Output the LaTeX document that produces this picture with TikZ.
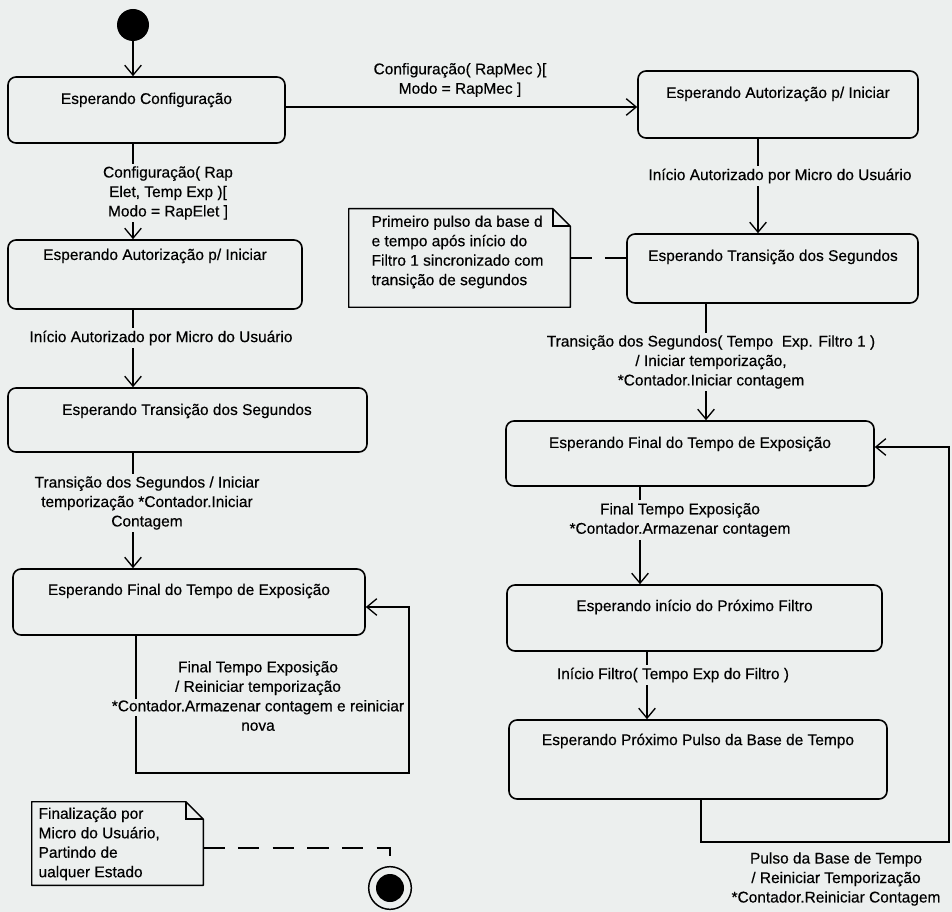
\documentclass[tikz,border=0pt]{standalone}
\usepackage{fontspec}
\setmainfont{Liberation Sans}[FakeBold=0.4]
\usetikzlibrary{arrows.meta,fit,calc}
\definecolor{paper}{HTML}{ECEFEE}
% text set on a patch of paper colour, so a connector behind it is interrupted
\newcommand\onpaper[1]{{\setlength{\fboxsep}{1pt}\colorbox{paper}{#1}}}
% UML note outline with a folded top-right corner
\newcommand\notefold[1]{%
  \draw[line width=1.1pt,line join=round]
    (#1.south west) -- (#1.north west) -- ([xshift=-13pt]#1.north east)
    -- ([yshift=-13pt]#1.north east) -- (#1.south east) -- cycle;
  \draw[line width=0.9pt]
    ([xshift=-13pt]#1.north east) -- ([xshift=-13pt,yshift=-13pt]#1.north east)
    -- ([yshift=-13pt]#1.north east);}

\begin{document}
\begin{tikzpicture}[x=0.75pt,y=-0.75pt,
  every node/.style={font=\fontsize{11.6pt}{14.6pt}\selectfont},
  state/.style={draw, rounded corners=6pt, line width=1.2pt, inner sep=0pt},
  notearea/.style={inner sep=0pt},
  txt/.style={inner sep=1pt},
  lbl/.style={fill=paper, align=center, inner sep=2pt},
  loose/.style={align=center, inner sep=1pt},
  arr/.style={line width=1pt, -{Straight Barb[length=7.5pt,width=12.5pt]}},
  dashline/.style={line width=1pt, dash pattern=on 16pt off 10pt}]

% page
\fill[paper] (0,0) rectangle (952,912);
\useasboundingbox (0,0) rectangle (952,912);

% ---------- states, left column ----------
\node[state, fit={(8,77) (285,143)}] (l1) {};
\node[txt] (l1t) at (146.5,100) {Esperando Configuração};
\node[state, fit={(8,240) (302,309)}] (l2) {};
\node[txt] (l2t) at (155,256) {Esperando Autorização p/ Iniciar};
\node[state, fit={(8,388) (367,452)}] (l3) {};
\node[txt] (l3t) at (187,411) {Esperando Transição dos Segundos};
\node[state, fit={(13,569) (365,635)}] (l4) {};
\node[txt] (l4t) at (189,591) {Esperando Final do Tempo de Exposição};

% ---------- states, right column ----------
\node[state, fit={(638,71) (918,138)}] (r1) {};
\node[txt] (r1t) at (778,94) {Esperando Autorização p/ Iniciar};
\node[state, fit={(627,234) (918,303)}] (r2) {};
\node[txt] (r2t) at (773,257) {Esperando Transição dos Segundos};
\node[state, fit={(506,421) (874,486)}] (r3) {};
\node[txt] (r3t) at (690,444) {Esperando Final do Tempo de Exposição};
\node[state, fit={(507,585) (882,651)}] (r4) {};
\node[txt] (r4t) at (694.5,607) {Esperando início do Próximo Filtro};
\node[state, fit={(509,720) (887,799)}] (r5) {};
\node[txt] (r5t) at (698,741) {Esperando Próximo Pulso da Base de Tempo};

% ---------- pseudo states ----------
\node[circle, fill=black, minimum size=24pt, inner sep=0pt] (init) at (133,25) {};
\node[circle, draw, line width=1.1pt, minimum size=32pt, inner sep=0pt,
  path picture={\fill[black] (path picture bounding box.center) circle (10.5pt);}]
  (final) at (390,888) {};

% ---------- notes ----------
\node[notearea, fit={(349,209) (570,307)}] (n1) {};
\notefold{n1}
\node[txt, align=left, anchor=west] (n1t) at (370,252)
  {Primeiro pulso da base d\\e tempo após início do\\Filtro 1 sincronizado com\\transição de segundos};
\node[notearea, fit={(32,802) (203,885)}] (n2) {};
\notefold{n2}
\node[txt, align=left, anchor=west] (n2t) at (37,844)
  {Finalização por\\Micro do Usuário,\\Partindo de\\ualquer Estado};

% ---------- connector guide positions ----------
\coordinate (cL) at (133,0);
\coordinate (hy) at (0,107);
\coordinate (c1) at (758,0);
\coordinate (c2) at (706,0);
\coordinate (c3) at (640,0);
\coordinate (c4) at (647,0);
\coordinate (lpA) at (136,773);
\coordinate (lpB) at (409,773);
\coordinate (lpC) at (409,607);
\coordinate (rb1) at (701,842);
\coordinate (rb2) at (949,842);
\coordinate (rb3) at (949,447);
\coordinate (fk) at (390,848);

% ---------- transitions ----------
\draw[arr] (init) -- (l1.north -| init);
\draw[arr] (l1.east |- hy) -- (r1.west |- hy);
\draw[arr] (l1.south -| cL) -- (l2.north -| cL);
\draw[arr] (l2.south -| cL) -- (l3.north -| cL);
\draw[arr] (l3.south -| cL) -- (l4.north -| cL);
\draw[arr] (l4.south -| lpA) -- (lpA) -- (lpB) -- (lpC) -- (lpC -| l4.east);

\draw[arr] (r1.south -| c1) -- (r2.north -| c1);
\draw[arr] (r2.south -| c2) -- (r3.north -| c2);
\draw[arr] (r3.south -| c3) -- (r4.north -| c3);
\draw[arr] (r4.south -| c4) -- (r5.north -| c4);
\draw[arr] (r5.south -| rb1) -- (rb1) -- (rb2) -- (rb3) -- (rb3 -| r3.east);

% note anchors
\draw[dashline] (n1.east) -- (n1.east -| r2.west);
\draw[dashline] (n2.east |- fk) -- (fk) -- (final.north);

% ---------- transition labels ----------
\node[loose] (t0) at (460,80) {Configuração( RapMec )[\\Modo = RapMec ]};
\node[lbl] (t1) at (168,193) {Configuração( Rap\\Elet, Temp Exp )[\\Modo = RapElet ]};
\node[lbl] (t2) at (161,338) {Início Autorizado por Micro do Usuário};
\node[lbl] (t3) at (147,503)
  {Transição dos Segundos / Iniciar\\temporização *Contador.Iniciar\\Contagem};
\node[loose] (t4) at (258,696)
  {Final Tempo Exposição\\/ Reiniciar temporização\\\onpaper{*Contador.Armazenar contagem e reiniciar}\\nova};

\node[lbl] (u1) at (780,176) {Início Autorizado por Micro do Usuário};
\node[lbl] (u2) at (711,362)
  {Transição dos Segundos( Tempo~~Exp. Filtro 1 )\\/ Iniciar temporização,\\*Contador.Iniciar contagem};
\node[lbl] (u3) at (680,520) {Final Tempo Exposição\\*Contador.Armazenar contagem};
\node[lbl] (u4) at (673,675) {Início Filtro( Tempo Exp do Filtro )};
\node[loose] (u5) at (836,879)
  {Pulso da Base de Tempo\\/ Reiniciar Temporização\\*Contador.Reiniciar Contagem};
\end{tikzpicture}
\end{document}
